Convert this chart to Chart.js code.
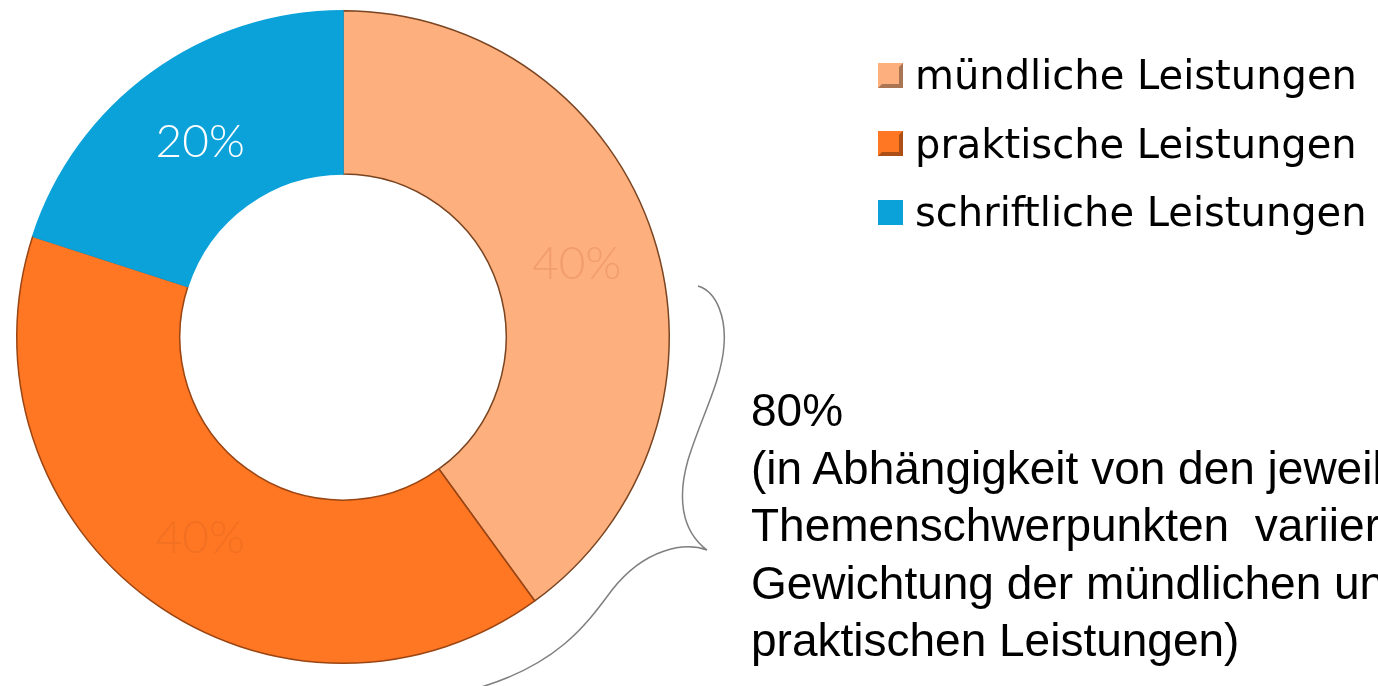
<!DOCTYPE html>
<html>
<head>
<meta charset="utf-8">
<script src="https://cdn.jsdelivr.net/npm/chart.js@4/dist/chart.umd.min.js"></script>
<style>
    html, body { margin: 0; padding: 0; background: #fff; overflow: hidden; }
    body { width: 1378px; height: 686px; position: relative; }
    #wrap { position: absolute; left: 0; top: 0; width: 1378px; height: 686px; }
    #legend { position: absolute; left: 878px; top: 41px; font-family: 'DejaVu Sans', sans-serif; }
    .item { height: 68.5px; display: flex; align-items: center; font-size: 40px; color: #000; white-space: nowrap; }
    .box { width: 25px; height: 25px; margin-right: 12px; box-sizing: border-box; }
    #note { position: absolute; left: 751px; top: 382px; font-family: 'Liberation Sans', Arial, sans-serif;
            font-size: 46px; line-height: 57.5px; color: #000; white-space: nowrap; }
    #brace { position: absolute; left: 0; top: 0; }
</style>
</head>
<body>
<div id="wrap"><canvas id="donut" width="1378" height="686"></canvas></div>
<svg id="brace" width="1378" height="686">
    <path d="M698,286 C718,292 726,320 724,345 C722,380 700,420 688,460 C678,495 680,530 707,550 C685,542 645,548 612,590 C588,622 560,664 478,688"
          fill="none" stroke="#7f7f7f" stroke-width="1.5"/>
</svg>
<div id="legend"></div>
<div id="note"></div>
<script>
// Data
const categories = ['mündliche Leistungen', 'praktische Leistungen', 'schriftliche Leistungen'];
const shares = [40, 40, 20];
const sliceColors = ['#FDAF7D', '#FF7623', '#0BA2DA'];
const edgeColors = ['#7A4420', '#9A4512', '#0BA2DA'];
const labelColors = ['#F29D6C', '#F27022', '#FFFFFF'];
const noteLines = [
    '80%',
    '(in Abhängigkeit von den jeweiligen',
    'Themenschwerpunkten&nbsp; variiert die',
    'Gewichtung der mündlichen und',
    'praktischen Leistungen)'
];

// Legend
const legendEl = document.getElementById('legend');
categories.forEach((cat, i) => {
    const row = document.createElement('div');
    row.className = 'item';
    const box = document.createElement('div');
    box.className = 'box';
    box.style.background = sliceColors[i];
    if (i < 2) box.style.border = '4px outset ' + sliceColors[i];
    row.appendChild(box);
    row.appendChild(document.createTextNode(cat));
    legendEl.appendChild(row);
});

document.getElementById('note').innerHTML = noteLines.join('<br>');

// Percent labels drawn at the slice centers
const sliceLabels = {
    id: 'sliceLabels',
    afterDatasetsDraw(chart) {
        const ctx = chart.ctx;
        const meta = chart.getDatasetMeta(0);
        ctx.save();
        ctx.font = '300 46px Lato, "Open Sans", sans-serif';
        ctx.textAlign = 'center';
        ctx.textBaseline = 'middle';
        meta.data.forEach((arc, i) => {
            const p = arc.tooltipPosition();
            ctx.fillStyle = labelColors[i];
            ctx.fillText(shares[i] + '%', p.x + 1, p.y + 3);
        });
        ctx.restore();
    }
};

new Chart(document.getElementById('donut'), {
    type: 'doughnut',
    data: {
        labels: categories,
        datasets: [{
            data: shares,
            backgroundColor: sliceColors,
            borderColor: edgeColors,
            borderWidth: 1.5
        }]
    },
    options: {
        responsive: false,
        animation: false,
        cutout: '50%',
        layout: { padding: { left: 16, top: 10, right: 708, bottom: 22 } },
        plugins: {
            legend: { display: false },
            tooltip: { enabled: false }
        }
    },
    plugins: [sliceLabels]
});
</script>
</body>
</html>
